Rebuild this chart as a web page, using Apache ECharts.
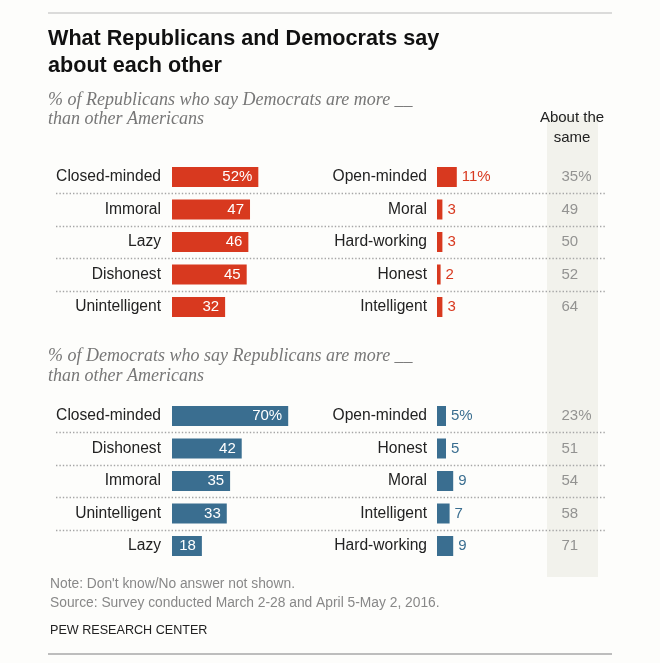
<!DOCTYPE html>
<html>
<head>
<meta charset="utf-8">
<script src="https://cdn.jsdelivr.net/npm/echarts@6/dist/echarts.min.js"></script>
<style>
html, body { margin: 0; padding: 0; background: #fdfdfb; }
#chart { width: 660px; height: 663px; }
</style>
</head>
<body>
<div id="chart"></div>
<script>
// Republicans on Democrats
const repTraits = ['Closed-minded', 'Immoral', 'Lazy', 'Dishonest', 'Unintelligent']
const repTraitVals = [52, 47, 46, 45, 32]
const repOpposites = ['Open-minded', 'Moral', 'Hard-working', 'Honest', 'Intelligent']
const repOppositeVals = [11, 3, 3, 2, 3]
const repSame = [35, 49, 50, 52, 64]

// Democrats on Republicans
const demTraits = ['Closed-minded', 'Dishonest', 'Immoral', 'Unintelligent', 'Lazy']
const demTraitVals = [70, 42, 35, 33, 18]
const demOpposites = ['Open-minded', 'Honest', 'Moral', 'Intelligent', 'Hard-working']
const demOppositeVals = [5, 5, 9, 7, 9]
const demSame = [23, 51, 54, 58, 71]

const RED = '#d8391f'
const BLUE = '#3a6e90'
const SANS = "'Liberation Sans', Arial, sans-serif"
const SERIF = "'Liberation Serif', 'DejaVu Serif', serif"

const rowH = 32.5
const pct = (v, i) => (i === 0 ? v + '%' : String(v))

const grid = [], xAxis = [], yAxis = [], series = []

function addPanel(top, traits, traitVals, opps, oppVals, same, color) {
  // dotted separators between the five rows
  let g = grid.length
  grid.push({ left: 56, width: 549, top: top + rowH, height: rowH * 3 })
  xAxis.push({ gridIndex: g, type: 'value', min: 0, max: 1, show: false })
  yAxis.push({
    gridIndex: g, type: 'value', min: 0, max: 3, interval: 1,
    axisLine: { show: false }, axisTick: { show: false }, axisLabel: { show: false },
    splitLine: { show: true, lineStyle: { type: [1.4, 2], color: '#a6a6a6', width: 1.4 } }
  })

  // left bars (negative traits)
  g = grid.length
  grid.push({ left: 172, width: 166, top: top, height: rowH * 5 })
  xAxis.push({ gridIndex: g, type: 'value', min: 0, max: 100, show: false })
  yAxis.push({
    gridIndex: g, type: 'category', data: traits, inverse: true,
    axisLine: { show: false }, axisTick: { show: false }, splitLine: { show: false },
    axisLabel: { fontFamily: SANS, fontSize: 15.6, color: '#222', margin: 11 }
  })
  series.push({
    type: 'bar', xAxisIndex: g, yAxisIndex: g, data: traitVals, barWidth: 20,
    itemStyle: { color: color }, silent: true,
    label: {
      show: true, position: 'insideRight', distance: 6, color: '#fff',
      fontFamily: SANS, fontSize: 15, formatter: (p) => pct(p.value, p.dataIndex)
    }
  })

  // right bars (positive traits)
  g = grid.length
  grid.push({ left: 437, width: 180, top: top, height: rowH * 5 })
  xAxis.push({ gridIndex: g, type: 'value', min: 0, max: 100, show: false })
  yAxis.push({
    gridIndex: g, type: 'category', data: opps, inverse: true,
    axisLine: { show: false }, axisTick: { show: false }, splitLine: { show: false },
    axisLabel: { fontFamily: SANS, fontSize: 15.6, color: '#222', margin: 10 }
  })
  series.push({
    type: 'bar', xAxisIndex: g, yAxisIndex: g, data: oppVals, barWidth: 20,
    itemStyle: { color: color }, silent: true,
    label: {
      show: true, position: 'right', distance: 5, color: color,
      fontFamily: SANS, fontSize: 15, formatter: (p) => pct(p.value, p.dataIndex)
    }
  })

  // "about the same" column
  g = grid.length
  grid.push({ left: 561, width: 30, top: top, height: rowH * 5 })
  xAxis.push({ gridIndex: g, type: 'value', min: 0, max: 1, show: false })
  yAxis.push({ gridIndex: g, type: 'category', data: opps, inverse: true, show: false })
  series.push({
    type: 'scatter', xAxisIndex: g, yAxisIndex: g, silent: true,
    data: same.map((v, i) => [0, i, v]),
    symbolSize: 1, itemStyle: { color: 'rgba(0,0,0,0)' },
    label: {
      show: true, position: 'right', distance: 0, color: '#7a7a7a',
      fontFamily: SANS, fontSize: 15, formatter: (p) => pct(p.value[2], p.dataIndex)
    }
  })
}

addPanel(160.75, repTraits, repTraitVals, repOpposites, repOppositeVals, repSame, RED)
addPanel(399.75, demTraits, demTraitVals, demOpposites, demOppositeVals, demSame, BLUE)

function txt(x, y, text, font, fill, align, lineHeight) {
  return {
    type: 'text', x: x, y: y, silent: true,
    style: {
      text: text, font: font, fill: fill,
      align: align || 'left', textAlign: align || 'left',
      verticalAlign: 'middle', textVerticalAlign: 'middle',
      lineHeight: lineHeight || 20
    }
  }
}

const graphic = [
  { type: 'rect', shape: { x: 547, y: 116, width: 51, height: 461 }, style: { fill: '#f2f2ec' }, z: -10, silent: true },
  { type: 'line', shape: { x1: 48, y1: 13, x2: 612, y2: 13 }, style: { stroke: '#cfcfcf', lineWidth: 1.5 }, silent: true },
  { type: 'line', shape: { x1: 48, y1: 654, x2: 612, y2: 654 }, style: { stroke: '#bdbdbd', lineWidth: 2 }, silent: true },
  txt(48, 52.5, 'What Republicans and Democrats say\nabout each other', 'bold 21.6px ' + SANS, '#111', 'left', 27),
  txt(48, 109.5, '% of Republicans who say Democrats are more __\nthan other Americans', 'italic 18px ' + SERIF, '#777', 'left', 19),
  txt(48, 366, '% of Democrats who say Republicans are more __\nthan other Americans', 'italic 18px ' + SERIF, '#777', 'left', 20),
  txt(572, 128, 'About the\nsame', '15px ' + SANS, '#222', 'center', 20),
  txt(50, 584, "Note: Don't know/No answer not shown.", '13.8px ' + SANS, '#888'),
  txt(50, 603, 'Source: Survey conducted March 2-28 and April 5-May 2, 2016.', '13.8px ' + SANS, '#888'),
  txt(50, 631, 'PEW RESEARCH CENTER', '12.6px ' + SANS, '#222')
]

const chart = echarts.init(document.getElementById('chart'), null, { renderer: 'canvas' })
chart.setOption({
  backgroundColor: '#fdfdfb',
  animation: false,
  grid: grid,
  xAxis: xAxis,
  yAxis: yAxis,
  series: series,
  graphic: graphic
})
</script>
</body>
</html>
